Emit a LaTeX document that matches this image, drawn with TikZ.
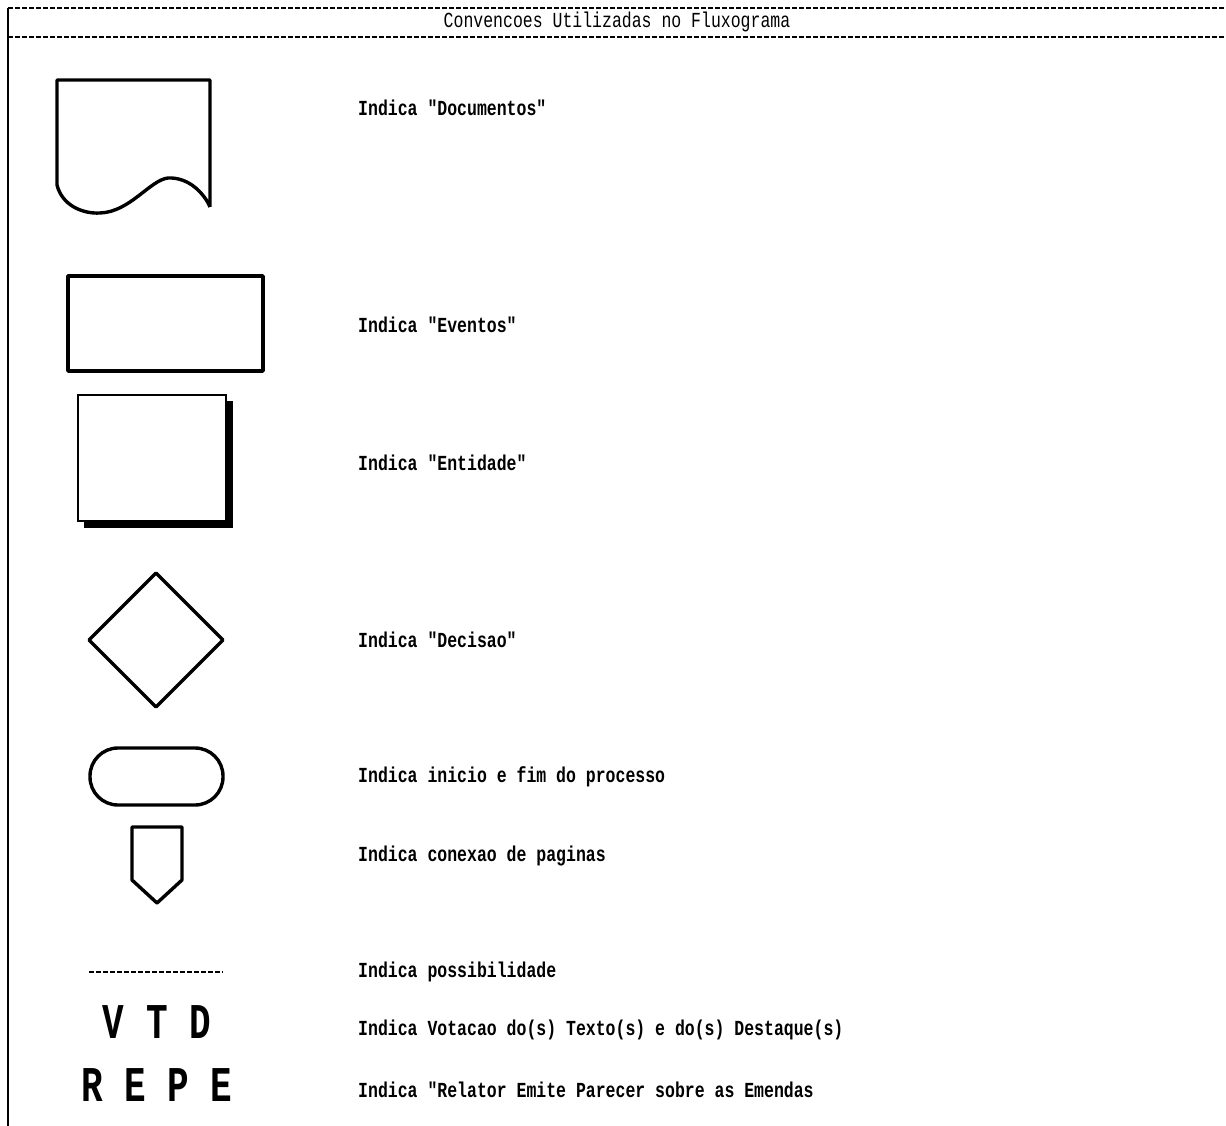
\documentclass[tikz,border=0pt]{standalone}
\usepackage{fontspec}
\setmonofont{Liberation Mono}
\usetikzlibrary{shapes.geometric,shapes.misc}
\newcommand{\tallbox}[1]{\scalebox{1}[1.3]{#1}}
\newcommand{\narrowbox}[1]{\scalebox{0.9}[1.25]{#1}}
\tikzset{
  sym/.style={line width=3.4pt, line join=round},
  rule/.style={line width=2.2pt, dash pattern=on 5pt off 2pt},
  legend/.style={anchor=west, inner sep=0pt, font=\ttfamily\bfseries\fontsize{16.5}{17}\selectfont},
  bigmark/.style={inner sep=0pt, font=\ttfamily\bfseries\fontsize{40}{40}\selectfont}
}
\begin{document}
\begin{tikzpicture}[x=1pt,y=-1pt]
  \useasboundingbox (0,0) rectangle (1226,1126);
  \draw[rule] (8,8) -- (1226,8);
  \draw[rule] (8,37) -- (1226,37);
  \draw[line width=2pt] (8,8) -- (8,1126);
  \node[inner sep=0pt, font=\ttfamily\fontsize{16.5}{17}\selectfont] (title) at (617,22) {\tallbox{Convencoes Utilizadas no Fluxograma}};

  \draw[sym] (210,207) -- (210,80) -- (57,80) -- (57,185)
    .. controls (62,205) and (82,214) .. (100,213)
    .. controls (130,212) and (150,180) .. (168,178)
    .. controls (190,177) and (205,195) .. (210,207);
  \node[legend] (doc) at (358,108) {\tallbox{Indica "Documentos"}};

  \draw[sym] (68,276) rectangle (263,371);
  \node[legend] (evt) at (358,325) {\tallbox{Indica "Eventos"}};

  \fill (84,401) rectangle (233,528);
  \draw[line width=2.6pt, fill=white] (78,395) rectangle (226,521);
  \node[legend] (ent) at (358,463) {\tallbox{Indica "Entidade"}};

  \draw[sym] (156,573) -- (223,640) -- (156,707) -- (89,640) -- cycle;
  \node[legend] (dec) at (358,640) {\tallbox{Indica "Decisao"}};

  \draw[sym, rounded corners=28pt] (90,748) rectangle (223,805);
  \node[legend] (ini) at (358,777) {\tallbox{Indica inicio e fim do processo}};

  \draw[sym] (132,827) -- (182,827) -- (182,880) -- (157,903) -- (132,880) -- cycle;
  \node[legend] (con) at (358,856) {\tallbox{Indica conexao de paginas}};

  \draw[rule] (89,972) -- (223,972);
  \node[legend] (pos) at (358,972) {\tallbox{Indica possibilidade}};

  \node[bigmark] (utd) at (157,1022) {\narrowbox{V T D}};
  \node[legend] (vot) at (358,1030) {\tallbox{Indica Votacao do(s) Texto(s) e do(s) Destaque(s)}};

  \node[bigmark] (repe) at (157,1085) {\narrowbox{R E P E}};
  \node[legend] (rel) at (358,1090) {\tallbox{Indica "Relator Emite Parecer sobre as Emendas}};
\end{tikzpicture}
\end{document}
